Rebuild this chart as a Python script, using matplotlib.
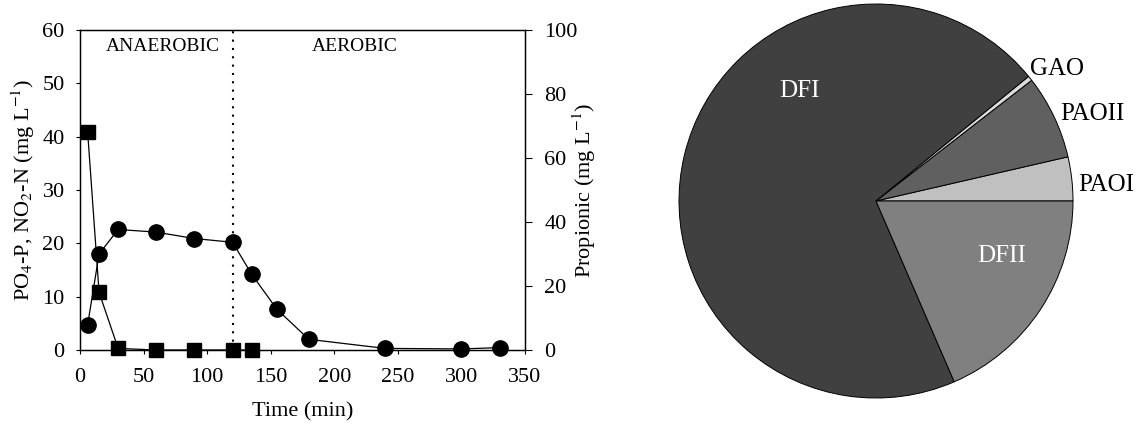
import matplotlib
matplotlib.use('Agg')
import matplotlib.pyplot as plt

# time course (left panel)
po4_time = [6, 15, 30, 60, 90, 120, 135, 155, 180, 240, 300, 330]
po4_conc = [4.7, 18.0, 22.6, 22.1, 20.9, 20.2, 14.2, 7.6, 2.0, 0.3, 0.2, 0.45]
prop_time = [6, 15, 30, 60, 90, 120, 135]
prop_conc = [68.2, 18.0, 0.5, 0.0, 0.0, 0.0, 0.0]
phase_switch = 120

# population fractions (right panel), counter-clockwise from 3 o'clock
groups = ['PAOI', 'PAOII', 'GAO', 'DFI', 'DFII']
fractions = [3.6, 6.9, 0.4, 70.6, 18.5]
group_colors = ['#c0c0c0', '#606060', '#dcdcdc', '#404040', '#808080']
label_pos = {'DFI': (-0.39, 0.56), 'DFII': (0.64, -0.28), 'GAO': (0.92, 0.67),
             'PAOII': (1.10, 0.44), 'PAOI': (1.17, 0.08)}
label_color = {'DFI': 'white', 'DFII': 'white', 'GAO': 'black',
               'PAOII': 'black', 'PAOI': 'black'}

plt.rcParams['font.family'] = ['Liberation Serif', 'DejaVu Serif']
plt.rcParams['mathtext.fontset'] = 'stix'

W, H = 1140, 432
fig = plt.figure(figsize=(W / 100, H / 100), dpi=100)

ax1 = fig.add_axes([80 / W, 1 - 350 / H, 445 / W, 320 / H])
ax2 = ax1.twinx()

ax1.axvline(phase_switch, color='black', lw=1.5, ls=(0, (1, 3)), zorder=1)
ax1.plot(po4_time, po4_conc, color='black', lw=0.9, marker='o', ms=11,
         clip_on=False, zorder=3)
ax2.plot(prop_time, prop_conc, color='black', lw=0.9, marker='s', ms=9.5,
         clip_on=False, zorder=3)

ax1.set_xlim(0, 350)
ax1.set_ylim(0, 60)
ax2.set_ylim(0, 100)
ax1.set_xticks(range(0, 351, 50))
ax1.set_yticks(range(0, 61, 10))
ax2.set_yticks(range(0, 101, 20))

ax1.tick_params(axis='x', direction='out', length=3, width=0.8, pad=10, labelsize=16)
ax1.tick_params(axis='y', direction='out', length=3, width=0.8, pad=8, labelsize=16)
ax2.tick_params(axis='y', direction='out', length=5, width=0.8, pad=9, labelsize=16)
for ax in (ax1, ax2):
    for sp in ax.spines.values():
        sp.set_linewidth(0.9)

ax1.set_xlabel('Time (min)', fontsize=16, labelpad=11)
ax1.set_ylabel('PO$_4$-P, NO$_2$-N (mg L$^{-1}$)', fontsize=16, labelpad=4)
ax2.set_ylabel('Propionic (mg L$^{-1}$)', fontsize=16, labelpad=-5)

ax1.text(20, 57, 'ANAEROBIC', fontsize=14, va='center', ha='left')
ax1.text(182, 57, 'AEROBIC', fontsize=14, va='center', ha='left')

# pie
cx, cy, r = 876, 201, 197
ax3 = fig.add_axes([(cx - r) / W, 1 - (cy + r) / H, 2 * r / W, 2 * r / H])
ax3.pie(fractions, colors=group_colors, startangle=0, counterclock=True,
        radius=1, wedgeprops=dict(edgecolor='black', linewidth=0.7))
ax3.set_xlim(-1, 1)
ax3.set_ylim(-1, 1)
for g in groups:
    x, y = label_pos[g]
    ax3.text(x, y, g, fontsize=18, ha='center', va='center', color=label_color[g])

fig.savefig('out.png', dpi=100)
